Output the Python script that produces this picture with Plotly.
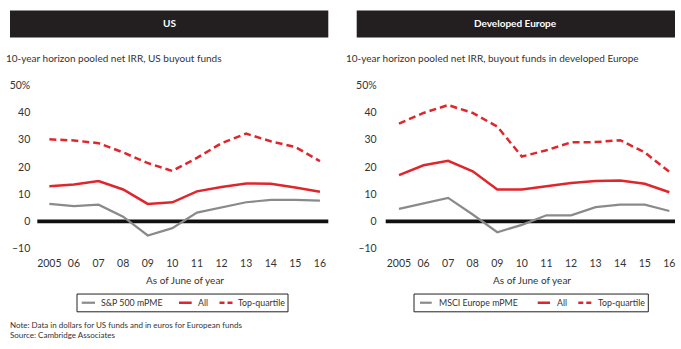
import plotly.graph_objects as go

# ---- data -------------------------------------------------------------
years = list(range(2005, 2017))
year_labels = ["2005", "06", "07", "08", "09", "10", "11", "12", "13", "14", "15", "16"]
y_ticks = [-10, 0, 10, 20, 30, 40, 50]
y_tick_labels = ["–10", "0", "10", "20", "30", "40", "50%"]

us_pme = [6.4, 5.6, 6.1, 1.7, -5.2, -2.5, 3.2, 5.2, 7.0, 7.9, 7.9, 7.6]
us_all = [12.9, 13.5, 14.8, 11.7, 6.4, 7.0, 11.0, 12.6, 13.9, 13.8, 12.4, 10.9]
us_top = [30.1, 29.7, 28.7, 25.3, 21.4, 18.5, 23.3, 28.7, 32.2, 29.4, 27.3, 22.1]

eu_pme = [4.6, 6.6, 8.6, 2.5, -4.0, -1.3, 2.2, 2.2, 5.2, 6.1, 6.1, 3.8]
eu_all = [17.0, 20.6, 22.2, 18.4, 11.7, 11.7, 12.9, 14.1, 14.8, 15.0, 13.8, 10.7]
eu_top = [35.9, 39.8, 42.7, 39.8, 34.8, 23.8, 26.1, 29.0, 29.1, 29.8, 25.3, 18.2]

panel_titles = ["US", "Developed Europe"]
panel_subtitles = ["10-year horizon pooled net IRR, US buyout funds",
                   "10-year horizon pooled net IRR, buyout funds in developed Europe"]
us_names = ["S&P 500 mPME", "All", "Top-quartile"]
eu_names = ["MSCI Europe mPME", "All", "Top-quartile"]
x_title = "As of June of year"
notes = ["Note: Data in dollars for US funds and in euros for European funds",
         "Source: Cambridge Associates"]

# ---- styling ----------------------------------------------------------
W, H = 681, 349
FONT = "Lato"
TXT = "#333333"
RED = "#e0262d"
GRAY = "#8a8a8a"
BAR = "#231f20"
styles = [dict(color=GRAY, width=2.2),
          dict(color=RED, width=2.5),
          dict(color=RED, width=2.5, dash="7px,4px")]


def px(x):
    return x / W


def py(y):
    return 1 - y / H


fig = go.Figure()

panels = [
    dict(xa="x", ya="y", series=[us_pme, us_all, us_top], names=us_names),
    dict(xa="x2", ya="y2", series=[eu_pme, eu_all, eu_top], names=eu_names),
]
for p in panels:
    for vals, name, st in zip(p["series"], p["names"], styles):
        fig.add_trace(go.Scatter(x=years, y=vals, name=name, mode="lines",
                                 line=st, xaxis=p["xa"], yaxis=p["ya"],
                                 showlegend=False))

ydom = [py(251.2), py(82)]
axis_common = dict(showgrid=False, zeroline=False, showline=False, ticks="",
                   tickfont=dict(family=FONT, size=10.5, color=TXT))
fig.update_layout(
    width=W, height=H,
    margin=dict(l=0, r=0, t=0, b=0),
    paper_bgcolor="white", plot_bgcolor="white",
    font=dict(family=FONT, color=TXT),
    showlegend=False,
    xaxis=dict(domain=[px(37.3), px(328.3)], range=[2004.51, 2016.34],
               tickvals=years, ticktext=year_labels, ticklabelstandoff=7,
               anchor="y", **axis_common),
    yaxis=dict(domain=ydom, range=[-10, 50], tickvals=y_ticks,
               ticktext=y_tick_labels, ticklabelstandoff=6, anchor="x",
               **axis_common),
    xaxis2=dict(domain=[px(385.7), px(675)], range=[2004.46, 2016.23],
                tickvals=years, ticktext=year_labels, ticklabelstandoff=7,
                anchor="y2", **axis_common),
    yaxis2=dict(domain=ydom, range=[-10, 50], tickvals=y_ticks,
                ticktext=y_tick_labels, ticklabelstandoff=8, anchor="x2",
                **axis_common),
)

shapes = []
annotations = []

# zero reference lines
for xa, ya in [("x", "y"), ("x2", "y2")]:
    shapes.append(dict(type="line", xref=f"{xa} domain", yref=ya,
                       x0=0, x1=1, y0=0, y1=0,
                       line=dict(color="#111111", width=3.8), layer="below"))

# header bars, subtitles, axis titles
bars = [(10, 328.3), (356.7, 675)]
sub_x = [4, 344]
xt_x = [185, 531.7]
for (x0, x1), title, sub, sx, tx in zip(bars, panel_titles, panel_subtitles, sub_x, xt_x):
    shapes.append(dict(type="rect", xref="paper", yref="paper",
                       x0=px(x0), x1=px(x1), y0=py(32.7), y1=py(4.7),
                       fillcolor=BAR, line=dict(width=0)))
    annotations.append(dict(text=f"<b>{title}</b>", xref="paper", yref="paper",
                            x=px((x0 + x1) / 2), y=py(18), xanchor="center",
                            yanchor="middle", showarrow=False,
                            font=dict(family=FONT, size=10, color="white")))
    annotations.append(dict(text=sub, xref="paper", yref="paper", x=px(sx),
                            y=py(54), xanchor="left", yanchor="middle",
                            showarrow=False,
                            font=dict(family=FONT, size=10, color=TXT)))
    annotations.append(dict(text=x_title, xref="paper", yref="paper", x=px(tx),
                            y=py(283.3), xanchor="center", yanchor="middle",
                            showarrow=False,
                            font=dict(family=FONT, size=10, color=TXT)))

# legend boxes
legends = [
    dict(box=(77, 288), items=[(81.7, 95, 99.3), (179, 191.7, 196.3), (219.5, 232.5, 236)],
         names=us_names),
    dict(box=(414, 648.3), items=[(420, 431.7, 436.7), (537.7, 550, 555), (578.3, 591.7, 596)],
         names=eu_names),
]
ly = 307.3
for lg in legends:
    bx0, bx1 = lg["box"]
    shapes.append(dict(type="rect", xref="paper", yref="paper",
                       x0=px(bx0), x1=px(bx1), y0=py(316.7), y1=py(298.3),
                       line=dict(color="#222222", width=1), fillcolor="rgba(0,0,0,0)"))
    for (l0, l1, tx), name, st in zip(lg["items"], lg["names"], styles):
        ln = dict(color=st["color"], width=st["width"])
        if "dash" in st:
            ln["dash"] = "5px,3px"
        shapes.append(dict(type="line", xref="paper", yref="paper",
                           x0=px(l0), x1=px(l1), y0=py(ly), y1=py(ly), line=ln))
        annotations.append(dict(text=name, xref="paper", yref="paper", x=px(tx),
                                y=py(ly), xanchor="left", yanchor="middle",
                                showarrow=False,
                                font=dict(family=FONT, size=8.8, color=TXT)))

# footnotes
for i, t in enumerate(notes):
    annotations.append(dict(text=t, xref="paper", yref="paper", x=px(8),
                            y=py(330 + i * 10.7), xanchor="left", yanchor="middle",
                            showarrow=False,
                            font=dict(family=FONT, size=8, color=TXT)))

fig.update_layout(shapes=shapes, annotations=annotations)
fig.write_html("out.html")
